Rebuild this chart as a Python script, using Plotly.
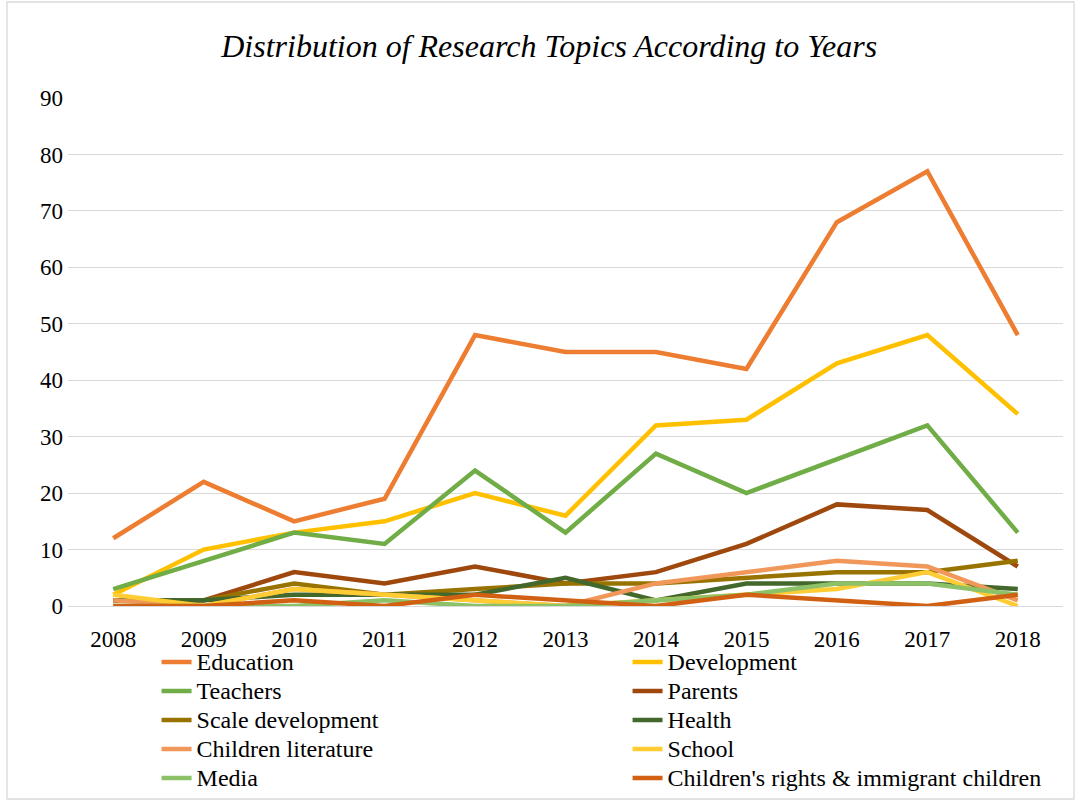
import plotly.graph_objects as go

years = ['2008', '2009', '2010', '2011', '2012', '2013', '2014', '2015', '2016', '2017', '2018']

education = [12, 22, 15, 19, 48, 45, 45, 42, 68, 77, 48]
development = [2, 10, 13, 15, 20, 16, 32, 33, 43, 48, 34]
teachers = [3, 8, 13, 11, 24, 13, 27, 20, 26, 32, 13]
parents = [1, 1, 6, 4, 7, 4, 6, 11, 18, 17, 7]
scale_development = [1, 1, 4, 2, 3, 4, 4, 5, 6, 6, 8]
health = [1, 1, 2, 2, 2, 5, 1, 4, 4, 4, 3]
children_literature = [1, 0, 3, 2, 1, 0, 4, 6, 8, 7, 1]
school = [2, 0, 3, 2, 1, 0, 1, 2, 3, 6, 0]
media = [0, 0, 0, 1, 0, 0, 1, 2, 4, 4, 2]
childrens_rights = [0, 0, 1, 0, 2, 1, 0, 2, 1, 0, 2]

series = [
    ('Education', education, '#ED7D31'),
    ('Development', development, '#FFC000'),
    ('Teachers', teachers, '#70AD47'),
    ('Parents', parents, '#9E480E'),
    ('Scale development', scale_development, '#997300'),
    ('Health', health, '#43682B'),
    ('Children literature', children_literature, '#F1975A'),
    ('School', school, '#FFCD33'),
    ('Media', media, '#8CC168'),
    ("Children's rights & immigrant children", childrens_rights, '#D26012'),
]

fig = go.Figure()
for name, vals, color in series:
    # bigger text inside the legend, row height still from the legend font
    fig.add_trace(go.Scatter(x=years, y=vals, mode='lines',
                             name='<span style="font-size:24px">%s</span>' % name,
                             line=dict(color=color, width=4.5)))

font = 'Liberation Serif, Times New Roman, serif'

fig.update_layout(
    width=1079, height=802,
    paper_bgcolor='white', plot_bgcolor='white',
    margin=dict(l=68, r=16, t=98, b=196, autoexpand=False),
    font=dict(family=font, size=23, color='black'),
    title=dict(text='<i>Distribution of Research Topics According to Years</i>',
               x=0.509, xanchor='center', y=0.9435, yanchor='middle',
               font=dict(family=font, size=32, color='black')),
    xaxis=dict(type='category', range=[-0.5, 10.5], showgrid=False, showline=False,
               ticks='', ticklabelstandoff=17, tickfont=dict(size=23)),
    yaxis=dict(range=[0, 90], dtick=10, gridcolor='#D9D9D9', gridwidth=1.3,
               zeroline=True, zerolinecolor='#D9D9D9', zerolinewidth=1.3,
               showline=False, ticks='', ticklabelstandoff=4, tickfont=dict(size=23)),
    legend=dict(orientation='h', x=0.089, xanchor='left', y=-0.072, yanchor='top',
                entrywidth=426, entrywidthmode='pixels', traceorder='normal',
                bgcolor='rgba(0,0,0,0)',
                font=dict(family=font, size=20), tracegroupgap=0),
    showlegend=True,
)

# outer chart border
fig.add_shape(type='rect', xref='paper', yref='paper',
              x0=(7 - 68) / 995, x1=(1074 - 68) / 995,
              y0=(606 - 799) / 508, y1=(606 - 2) / 508,
              line=dict(color='#D9D9D9', width=1.3), fillcolor='rgba(0,0,0,0)')

fig.write_html('out.html', config={'displayModeBar': False},
               post_script="document.body.style.margin='0';")
